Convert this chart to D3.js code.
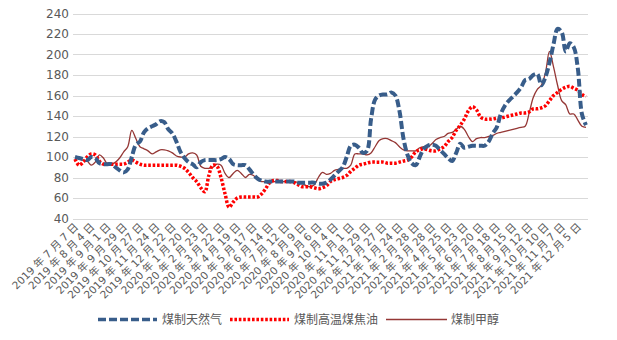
<!DOCTYPE html>
<html>
<head>
<meta charset="utf-8">
<script src="https://cdn.jsdelivr.net/npm/d3@7/dist/d3.min.js"></script>
<style>
  html, body { margin: 0; padding: 0; background: #ffffff; }
  svg { display: block; }
  text { font-family: "DejaVu Sans", "Noto Sans CJK SC", sans-serif; fill: #595959; }
</style>
</head>
<body>
<svg id="chart" width="617" height="340"></svg>
<script>
// ---- data ----
const seriesNames = ["煤制天然气", "煤制高温煤焦油", "煤制甲醇"];
const tickLabels = ["2019 年 7 月 7 日","2019 年 8 月 4 日","2019 年 9 月 1 日","2019 年 9 月 29 日","2019 年 10 月 27 日","2019 年 11 月 24 日","2019 年 12 月 22 日","2020 年 1 月 20 日","2020 年 2 月 23 日","2020 年 3 月 22 日","2020 年 4 月 19 日","2020 年 5 月 17 日","2020 年 6 月 14 日","2020 年 7 月 12 日","2020 年 8 月 9 日","2020 年 9 月 6 日","2020 年 10 月 4 日","2020 年 11 月 1 日","2020 年 11 月 29 日","2020 年 12 月 27 日","2021 年 1 月 24 日","2021 年 2 月 28 日","2021 年 3 月 28 日","2021 年 4 月 25 日","2021 年 5 月 23 日","2021 年 6 月 20 日","2021 年 7 月 18 日","2021 年 8 月 15 日","2021 年 9 月 12 日","2021 年 10 月 10 日","2021 年 11 月 7 日","2021 年 12 月 5 日"];
const yTicks = [40, 60, 80, 100, 120, 140, 160, 180, 200, 220, 240];

const gasValues = [
  100,99,98,97,100,99,94,93,93,93,
  90,87,85,88,100,112,115,124,128,130,
  132,135,134,127,123,115,105,99,95,93,
  90,95,97,97,97,97,98,100,98,93,
  92,92,92,88,83,79,77,76,76,76,
  76,76,76,76,76,75,75,75,75,75,
  74,74,75,78,82,86,90,100,111,112,
  109,104,106,137,156,160,161,161,163,160,
  145,118,102,94,92,100,108,111,112,111,
  107,103,99,96,104,113,109,110,111,111,
  111,111,115,123,129,142,150,155,159,163,
  168,175,176,180,181,170,178,192,210,225,
  222,203,211,207,186,142,131
];
const tarValues = [
  98,92,95,100,103,102,96,93,93,93,
  93,93,93,95,97,95,93,92,92,92,
  92,92,92,92,92,92,91,89,85,80,
  76,70,66,82,92,91,80,64,51,56,
  60,61,61,61,61,61,64,69,75,77,
  77,76,76,76,75,73,71,71,71,70,
  69,70,72,76,78,79,80,82,86,89,
  92,93,94,95,95,95,95,94,94,94,
  95,96,97,100,105,107,108,107,106,106,
  108,110,115,119,126,131,137,145,149,146,
  139,137,137,137,138,138,139,140,141,142,
  143,143,144,147,147,148,150,155,160,163,
  166,168,169,167,165,161,159
];
const methanolValues = [
  100,98,97,96,92,95,102,99,93,93,
  95,99,105,110,126,118,110,108,106,103,
  105,107,107,106,104,101,100,100,103,104,
  102,91,89,89,90,93,92,84,80,84,
  87,84,80,83,82,78,76,76,76,76,
  76,76,76,76,76,75,74,72,71,73,
  80,85,83,84,87,88,89,89,92,103,
  103,103,102,104,110,116,118,118,116,114,
  110,107,106,106,106,109,110,110,113,117,
  119,120,123,124,127,130,127,120,115,118,
  119,119,120,121,123,124,125,126,127,128,
  129,130,143,158,166,170,182,203,188,170,
  155,151,142,142,136,130,129
];
const categories = d3.range(gasValues.length);

// ---- layout ----
const svg = d3.select("#chart");
const plot = { left: 73, right: 588, top: 13.5, bottom: 218.5 };

const x = d3.scaleBand().domain(categories).range([plot.left, plot.right]);
const xc = i => x(i) + x.bandwidth() / 2;
const y = d3.scaleLinear().domain([40, 240]).range([plot.bottom, plot.top]);

// gridlines
svg.append("g")
  .selectAll("line")
  .data(yTicks)
  .join("line")
  .attr("x1", plot.left).attr("x2", plot.right)
  .attr("y1", d => Math.round(y(d)) + 0.5).attr("y2", d => Math.round(y(d)) + 0.5)
  .attr("stroke", "#d9d9d9").attr("stroke-width", 1);

// y axis
const yAxis = svg.append("g")
  .attr("transform", `translate(${plot.left},0)`)
  .call(d3.axisLeft(y).tickValues(yTicks).tickSize(0).tickPadding(4));
yAxis.select(".domain").remove();
yAxis.selectAll("text")
  .attr("font-size", 12)
  .style("font-family", '"DejaVu Sans", sans-serif')
  .attr("fill", "#595959");

// x axis
const tickIdx = tickLabels.map((_, k) => k * 4);
const xAxis = svg.append("g")
  .attr("transform", `translate(0,${plot.bottom})`)
  .call(d3.axisBottom(x).tickValues(tickIdx).tickSize(0)
    .tickFormat(d => tickLabels[d / 4]));
xAxis.select(".domain").remove();
xAxis.selectAll("text")
  .attr("font-size", 10.5)
  .attr("fill", "#595959")
  .attr("text-anchor", "end")
  .attr("x", 0).attr("y", 0).attr("dy", 0)
  .attr("transform", "translate(4,9) rotate(-45)");

// lines
const line = d3.line()
  .x((d, i) => xc(i))
  .y(d => y(d))
  .curve(d3.curveCatmullRom.alpha(0.5));

const styles = [
  { values: gasValues, color: "#385d8a", width: 4, dash: "8,3" },
  { values: tarValues, color: "#ff0000", width: 3.5, dash: "2.6,1.8" },
  { values: methanolValues, color: "#953735", width: 1.3, dash: null }
];

// draw methanol first, then tar, then gas on top
[2, 1, 0].forEach(k => {
  const s = styles[k];
  svg.append("path")
    .datum(s.values)
    .attr("d", line)
    .attr("fill", "none")
    .attr("stroke", s.color)
    .attr("stroke-width", s.width)
    .attr("stroke-dasharray", s.dash)
    .attr("stroke-linejoin", "round");
});

// legend
const legendItems = [
  { name: seriesNames[0], x0: 98, x1: 157, tx: 162, s: styles[0] },
  { name: seriesNames[1], x0: 230, x1: 289, tx: 294, s: styles[1] },
  { name: seriesNames[2], x0: 386, x1: 447, tx: 451, s: styles[2] }
];
const ly = 319.5;
const lg = svg.append("g");
legendItems.forEach(it => {
  lg.append("line")
    .attr("x1", it.x0).attr("x2", it.x1)
    .attr("y1", ly).attr("y2", ly)
    .attr("stroke", it.s.color)
    .attr("stroke-width", it.s.width === 1.3 ? 1.3 : 3.3)
    .attr("stroke-dasharray", it.s.dash);
  lg.append("text")
    .attr("x", it.tx).attr("y", ly).attr("dy", "0.36em")
    .attr("font-size", 12)
    .style("font-family", '"Noto Sans CJK SC", sans-serif')
    .attr("fill", "#595959")
    .text(it.name);
});
</script>
</body>
</html>
